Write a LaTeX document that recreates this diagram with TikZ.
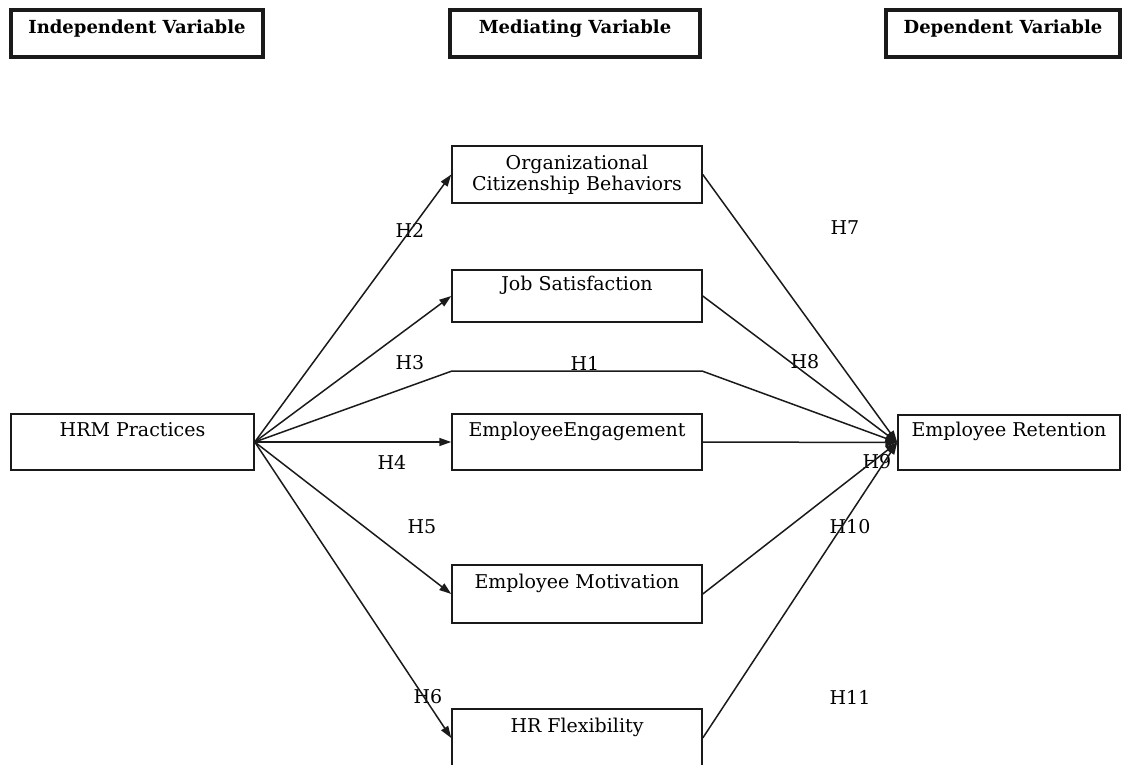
\documentclass[tikz,border=0pt]{standalone}
\usepackage{fontspec}
\setmainfont{DejaVu Serif}
\usetikzlibrary{arrows.meta}
\definecolor{boxline}{HTML}{1A1A1A}
\tikzset{
  head/.style={draw=boxline, line width=3.2pt, minimum width=250pt, minimum height=47pt,
               inner sep=0pt, font=\fontsize{18}{21}\selectfont\bfseries,
               text height=17pt, text depth=16pt},
  var/.style={draw=boxline, line width=1.5pt, minimum width=250pt, minimum height=56pt,
              inner sep=0pt, font=\fontsize{19}{23}\selectfont},
  vartop/.style={var, text height=15pt, text depth=27pt},
  hyp/.style={font=\fontsize{19}{23}\selectfont, inner sep=0pt},
  flow/.style={-{Triangle[length=12pt,width=8pt]}, line width=1.5pt, draw=boxline},
}

\begin{document}
\begin{tikzpicture}[x=1pt,y=-1pt]
  \useasboundingbox (0,0) rectangle (1122,765);
  \clip (0,0) rectangle (1122,765);

  % column headings
  \node[head, minimum width=252pt] (indep) at (137,33.5) {Independent Variable};
  \node[head] (medi) at (575,33.5) {Mediating Variable};
  \node[head, minimum width=234pt] (dep) at (1003,33.5) {Dependent Variable};

  % variables
  \node[vartop, minimum width=243pt] (hrm) at (132.5,442) {HRM Practices};
  \node[var, minimum height=57pt, align=center] (ocb) at (577,174.5)
       {Organizational\\[-2pt]Citizenship Behaviors};
  \node[vartop, minimum height=52pt] (js) at (577,296) {Job Satisfaction};
  \node[vartop] (ee) at (577,442) {EmployeeEngagement};
  \node[vartop, minimum height=58pt] (em) at (577,594) {Employee Motivation};
  \node[vartop, minimum height=58pt] (hrf) at (577,738) {HR Flexibility};
  \node[vartop, minimum width=222pt, minimum height=55pt] (er) at (1009,442.5) {Employee Retention};

  % hypotheses
  \foreach \n/\x/\y in {1/585/363, 2/410/230, 3/410/363, 4/392/462, 5/422/527, 6/428/697,
                        7/845/228, 8/805/362, 9/877/462, 10/850/527, 11/850/697}
    \node[hyp] (h\n) at (\x,\y) {H\n};

  % direct path H1
  \coordinate (h1a) at (452,371);
  \coordinate (h1b) at (702,371);
  \draw[flow] (hrm.east) -- (h1a) -- (h1b) -- (er.west);

  \foreach \m in {ocb,js,ee,em,hrf}{
    \draw[flow] (hrm.east) -- (\m.west);
    \draw[flow] (\m.east) -- (er.west);
  }
\end{tikzpicture}
\end{document}
